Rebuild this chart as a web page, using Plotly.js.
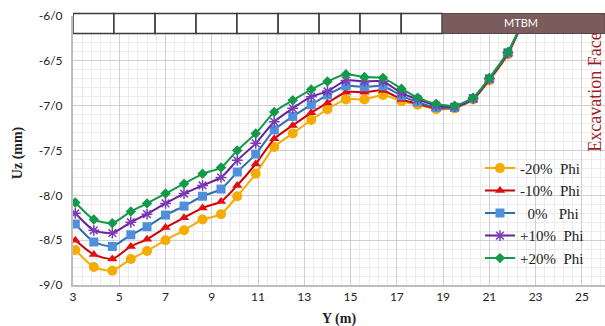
<!DOCTYPE html>
<html>
<head>
<meta charset="utf-8">
<script src="https://cdn.plot.ly/plotly-3.0.1.min.js"></script>
<style>html,body{margin:0;padding:0;background:#fff;}#chart{width:605px;height:326px;}</style>
</head>
<body>
<div id="chart"></div>
<script>
// Y positions (m)
const yPos = [3.1, 3.9, 4.7, 5.5, 6.2, 7.0, 7.8, 8.6, 9.4, 10.1, 10.9, 11.7, 12.5, 13.3, 14.0, 14.8, 15.6, 16.4, 17.2, 17.9, 18.7, 19.5, 20.3, 21.0, 21.8, 22.6];

// Uz (mm) for each friction-angle variation
const phiMinus20 = [-8.61, -8.80, -8.84, -8.71, -8.62, -8.50, -8.39, -8.27, -8.21, -8.01, -7.76, -7.46, -7.31, -7.16, -7.04, -6.93, -6.93, -6.88, -6.95, -6.99, -7.04, -7.03, -6.93, -6.72, -6.43, -5.98];
const phiMinus10 = [-8.50, -8.66, -8.71, -8.57, -8.49, -8.36, -8.25, -8.14, -8.07, -7.89, -7.65, -7.37, -7.22, -7.08, -6.97, -6.85, -6.85, -6.83, -6.93, -6.98, -7.03, -7.02, -6.93, -6.71, -6.42, -5.98];
const phi0       = [-8.32, -8.52, -8.57, -8.44, -8.35, -8.22, -8.12, -8.01, -7.93, -7.74, -7.54, -7.27, -7.12, -6.99, -6.88, -6.78, -6.79, -6.78, -6.89, -6.96, -7.02, -7.02, -6.92, -6.70, -6.41, -5.98];
const phiPlus10  = [-8.20, -8.39, -8.42, -8.30, -8.21, -8.09, -7.98, -7.89, -7.80, -7.61, -7.42, -7.18, -7.03, -6.90, -6.84, -6.72, -6.73, -6.73, -6.86, -6.93, -7.00, -7.01, -6.92, -6.70, -6.41, -5.98];
const phiPlus20  = [-8.08, -8.27, -8.31, -8.18, -8.09, -7.98, -7.87, -7.76, -7.69, -7.50, -7.31, -7.07, -6.94, -6.82, -6.73, -6.65, -6.68, -6.69, -6.81, -6.91, -6.98, -7.00, -6.91, -6.69, -6.40, -5.98];

const seriesNames = ["-20%\u00a0\u00a0Phi", "-10%\u00a0\u00a0Phi", "\u00a0\u00a00%\u00a0\u00a0\u00a0Phi", "+10%\u00a0\u00a0Phi", "+20%\u00a0\u00a0Phi"];

const xTickVals = [3, 5, 7, 9, 11, 13, 15, 17, 19, 21, 23, 25];
const yTickVals = [-9, -8.5, -8, -7.5, -7, -6.5, -6];
const yTickText = ["-9/0", "-8/5", "-8/0", "-7/5", "-7/0", "-6/5", "-6/0"];

// segment boundaries of the tunnel strip (m)
const segEdges = [3.0, 4.77, 6.55, 8.32, 10.09, 11.87, 13.64, 15.41, 17.19, 18.96];
const mtbmStart = 18.96, mtbmEnd = 26;

const styles = [
  {color: "#f5ab00", line: "#f5ab00", symbol: "circle", size: 10},
  {color: "#e01010", line: "#d00000", symbol: "triangle-up", size: 9},
  {color: "#4f8fdc", line: "#2f6fae", symbol: "square", size: 9},
  {color: "#7b3bb8", line: "#6a1f9e", symbol: "asterisk-open", size: 9},
  {color: "#12994a", line: "#12994a", symbol: "diamond", size: 8}
];
const ys = [phiMinus20, phiMinus10, phi0, phiPlus10, phiPlus20];

const traces = ys.map((y, i) => ({
  x: yPos, y: y, name: seriesNames[i], type: "scatter", mode: "lines+markers",
  line: {color: styles[i].line, width: 2, shape: "spline", smoothing: 0.6},
  marker: {color: styles[i].color, symbol: styles[i].symbol, size: styles[i].size,
           line: {color: styles[i].color, width: styles[i].symbol === "asterisk-open" ? 1.5 : 0}}
}));

const shapes = [];
for (let k = 0; k < segEdges.length - 1; k++) {
  shapes.push({type: "rect", xref: "x", yref: "paper", x0: segEdges[k], x1: segEdges[k+1], y0: 0.935, y1: 1.009,
    fillcolor: "#ffffff", line: {color: "#3a3a3a", width: 1.5}, layer: "above"});
}
shapes.push({type: "rect", xref: "x", yref: "paper", x0: mtbmStart, x1: mtbmEnd, y0: 0.935, y1: 1.009,
  fillcolor: "#7b5c5d", line: {color: "#5a4444", width: 1}, layer: "above"});

const layout = {
  width: 605, height: 326,
  margin: {l: 73, r: 0, t: 16, b: 41},
  paper_bgcolor: "#ffffff", plot_bgcolor: "#ffffff",
  showlegend: true,
  legend: {x: 0.765, y: 0.495, xanchor: "left", yanchor: "top", bgcolor: "rgba(0,0,0,0)",
    font: {family: "Liberation Serif, Times New Roman, serif", size: 15, color: "#222"},
    tracegroupgap: 0, itemwidth: 30},
  xaxis: {
    range: [3, 26], tickvals: xTickVals, ticktext: xTickVals.map(String),
    showgrid: true, gridcolor: "#cfcfcf", gridwidth: 1,
    minor: {dtick: 0.4, tick0: 3, showgrid: true, gridcolor: "#ececec", gridwidth: 1},
    showline: true, linecolor: "#bdbdbd", linewidth: 2, zeroline: false, ticks: "",
    tickfont: {family: "Lato, Noto Sans, sans-serif", size: 12, color: "#222"}
  },
  yaxis: {
    range: [-9, -6], tickvals: yTickVals, ticktext: yTickText,
    showgrid: true, gridcolor: "#cfcfcf", gridwidth: 1,
    minor: {dtick: 0.1, tick0: -9, showgrid: true, gridcolor: "#ececec", gridwidth: 1},
    showline: true, linecolor: "#bdbdbd", linewidth: 2, zeroline: false, ticks: "",
    tickfont: {family: "Lato, Noto Sans, sans-serif", size: 12, color: "#222"},
    ticklabelstandoff: 6
  },
  shapes: shapes,
  annotations: [
    {text: "MTBM", xref: "x", yref: "paper", x: (mtbmStart + mtbmEnd) / 2 - 0.1, y: 0.975, yanchor: "middle", showarrow: false,
      font: {family: "Lato, Noto Sans, sans-serif", size: 11, color: "#ffffff"}},
    {text: "Excavation Face", xref: "paper", yref: "paper", x: 1.0, y: 0.715, xanchor: "center", yanchor: "middle",
      showarrow: false, textangle: -90, xshift: -10,
      font: {family: "Liberation Serif, Times New Roman, serif", size: 18, color: "#a01c22"}},
    {text: "<b>Uz (mm)</b>", xref: "paper", yref: "paper", x: 0, y: 0.49, xanchor: "center", xshift: -55, showarrow: false,
      textangle: -90, font: {family: "Liberation Serif, Times New Roman, serif", size: 14, color: "#222"}},
    {text: "<b>Y (m)</b>", xref: "paper", yref: "paper", x: 0.5, y: 0, yshift: -24, yanchor: "top", showarrow: false,
      font: {family: "Liberation Serif, Times New Roman, serif", size: 14, color: "#222"}}
  ]
};

Plotly.newPlot("chart", traces, layout, {displayModeBar: false, staticPlot: true});
</script>
</body>
</html>
